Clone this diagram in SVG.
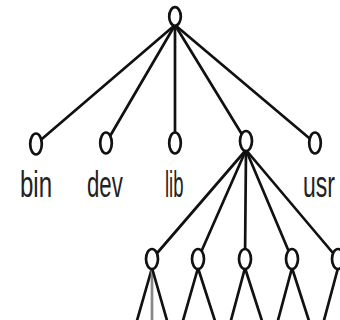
<svg xmlns="http://www.w3.org/2000/svg" width="340" height="320" viewBox="0 0 340 320">
<style>
.e{stroke:#111;stroke-width:2.7;fill:none;stroke-linecap:round}
.n{fill:#fff;stroke:#111;stroke-width:2.7}
.t{font-family:"Liberation Sans",Arial,sans-serif;font-size:37px;fill:#222}
</style>
<rect width="340" height="320" fill="#fff"/>
<g id="connectors">
<line class="e" x1="175" y1="25" x2="36" y2="144"/>
<line class="e" x1="175" y1="25" x2="106" y2="143"/>
<line class="e" x1="175" y1="25" x2="175" y2="143"/>
<line class="e" x1="175" y1="25" x2="246" y2="141"/>
<line class="e" x1="175" y1="25" x2="315" y2="143"/>
<line class="e" x1="246" y1="150" x2="152" y2="259"/>
<line class="e" x1="246" y1="150" x2="198" y2="259"/>
<line class="e" x1="246" y1="150" x2="245" y2="259"/>
<line class="e" x1="246" y1="150" x2="292" y2="259"/>
<line class="e" x1="246" y1="150" x2="338" y2="259"/>
<line class="e" x1="152" y1="268" x2="136" y2="324"/>
<line x1="152" y1="268" x2="152" y2="324" stroke="#888" stroke-width="2.7"/>
<line class="e" x1="152" y1="268" x2="168" y2="324"/>
<line class="e" x1="198" y1="268" x2="182" y2="324"/>
<line class="e" x1="198" y1="268" x2="216" y2="324"/>
<line class="e" x1="245" y1="268" x2="230" y2="324"/>
<line class="e" x1="245" y1="268" x2="263" y2="324"/>
<line class="e" x1="292" y1="268" x2="277" y2="324"/>
<line class="e" x1="292" y1="268" x2="310" y2="324"/>
<line class="e" x1="338" y1="268" x2="323" y2="324"/>
</g>
<g id="root"><ellipse class="n" cx="175" cy="16.5" rx="5.8" ry="9.3"/></g>
<g id="bin"><ellipse class="n" cx="36" cy="144" rx="5.8" ry="10.5"/><text class="t" transform="translate(20 197) scale(0.65 1)">bin</text></g>
<g id="dev"><ellipse class="n" cx="106" cy="143" rx="5.8" ry="10.5"/><text class="t" transform="translate(87 197) scale(0.6 1)">dev</text></g>
<g id="lib"><ellipse class="n" cx="175" cy="143" rx="5.8" ry="10.5"/><text class="t" transform="translate(165 197) scale(0.5 1)">lib</text></g>
<g id="n4"><ellipse class="n" cx="246" cy="141" rx="6" ry="10"/></g>
<g id="usr"><ellipse class="n" cx="315" cy="143" rx="5.8" ry="10.5"/><text class="t" transform="translate(303 197) scale(0.62 1)">usr</text></g>
<g id="c1"><ellipse class="n" cx="152" cy="259" rx="6" ry="10"/></g>
<g id="c2"><ellipse class="n" cx="198" cy="259" rx="6" ry="10"/></g>
<g id="c3"><ellipse class="n" cx="245" cy="259" rx="6" ry="10"/></g>
<g id="c4"><ellipse class="n" cx="292" cy="259" rx="6" ry="10"/></g>
<g id="c5"><ellipse class="n" cx="338" cy="259" rx="6" ry="10"/></g>
</svg>
